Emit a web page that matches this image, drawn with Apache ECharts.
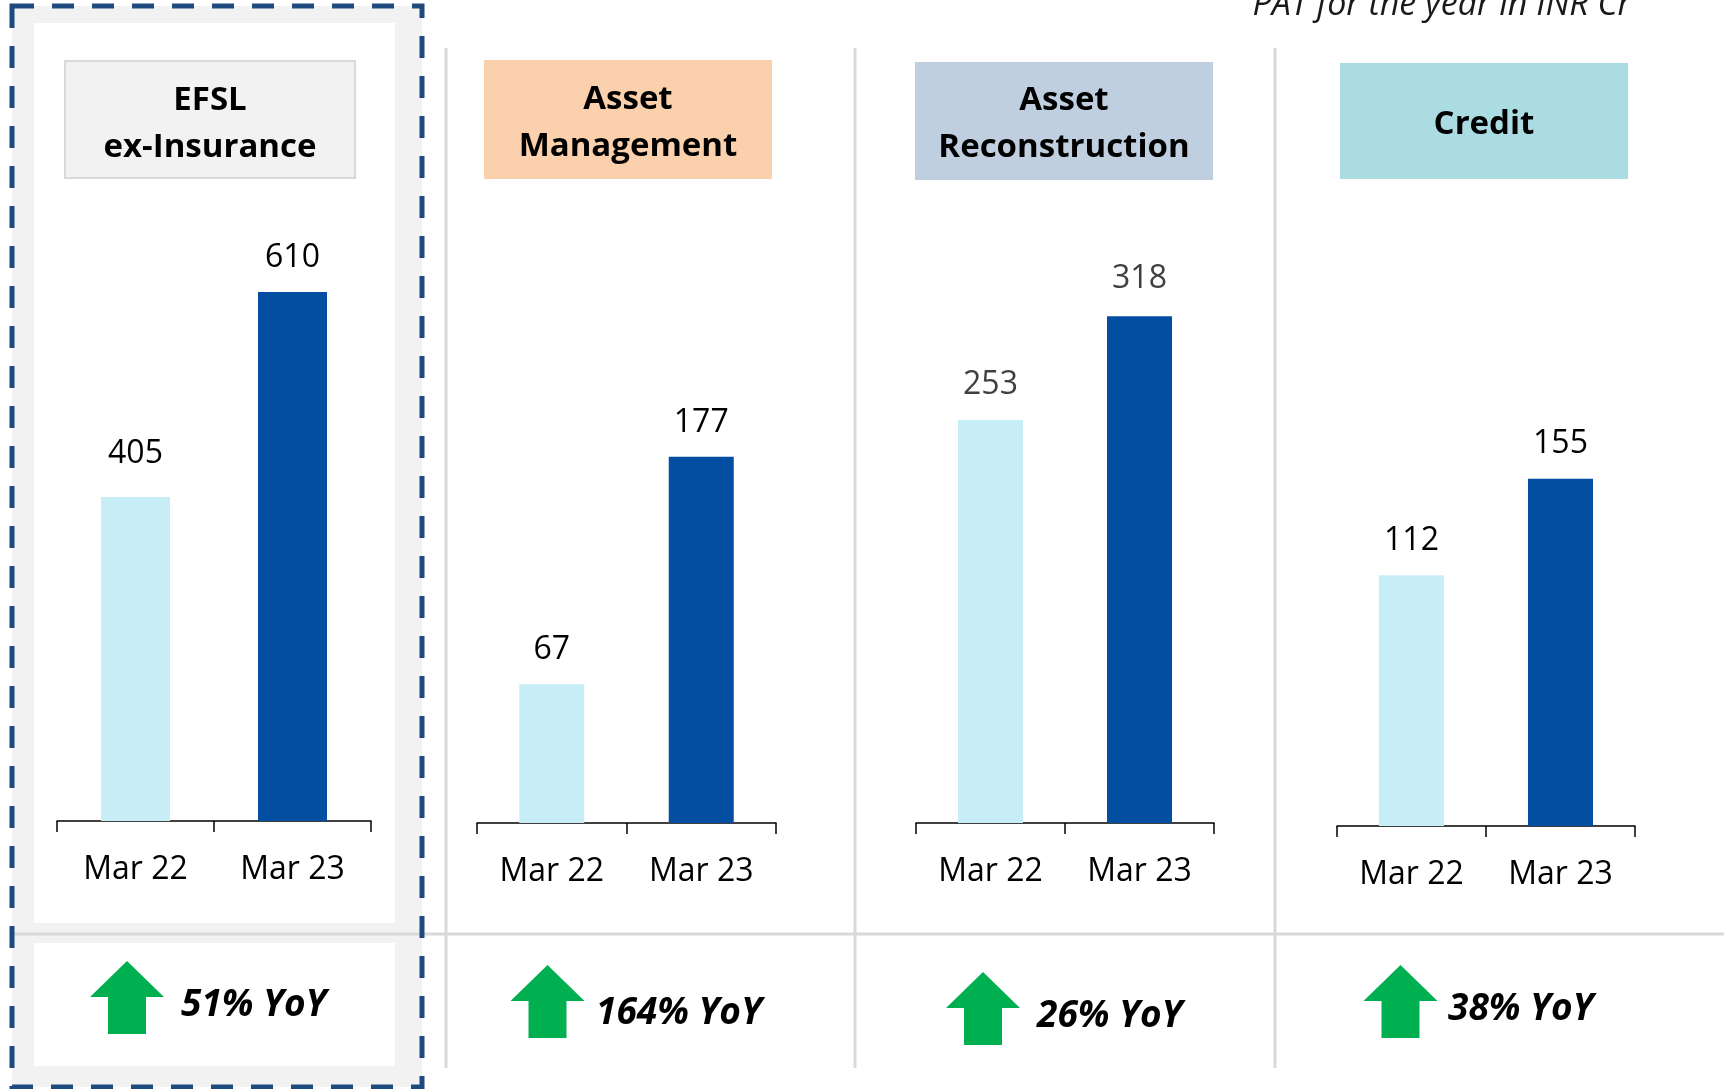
<!DOCTYPE html>
<html>
<head>
<meta charset="utf-8">
<script src="https://cdn.jsdelivr.net/npm/echarts@6/dist/echarts.min.js"></script>
<style>
html,body{margin:0;padding:0;background:#fff;}
#chart{width:1724px;height:1089px;}
</style>
</head>
<body>
<div id="chart"></div>
<script>
// ---- data ----
const categories = ['Mar 22', 'Mar 23'];
const segments = ['EFSL\nex-Insurance', 'Asset\nManagement', 'Asset\nReconstruction', 'Credit'];
const patMar22 = [405, 67, 253, 112];
const patMar23 = [610, 177, 318, 155];
const yoyGrowth = ['51% YoY', '164% YoY', '26% YoY', '38% YoY'];
const noteText = 'PAT for the year in INR Cr';

// ---- layout / style ----
const FONT = '"Open Sans", "Noto Sans", sans-serif';
const LIGHT = '#C7EEF6';
const DARK = '#044EA2';
const panels = [
  { left: 57,   width: 314, axisY: 821, min: 81, max: 702, barW: 69, labelColor: '#000', labelDist: [27, 18],
    box: [65, 61, 290, 117], boxFill: '#F2F2F2', boxStroke: '#D9D9D9', titleY: 124,
    arrowCx: 127, arrowTip: 961, arrowBase: 997, arrowBottom: 1034, yoyX: 181, yoyY: 1005 },
  { left: 477,  width: 299, axisY: 823, min: 0, max: 301, barW: 65, labelColor: '#000', labelDist: [18, 18],
    box: [484, 60, 288, 119], boxFill: '#FBD0AC', boxStroke: null, titleY: 123,
    arrowCx: 547.5, arrowTip: 965, arrowBase: 1001, arrowBottom: 1038, yoyX: 596, yoyY: 1013 },
  { left: 916,  width: 298, axisY: 823, min: 0, max: 391, barW: 65, labelColor: '#404040', labelDist: [19, 21],
    box: [915, 62, 298, 118], boxFill: '#C0CFE0', boxStroke: null, titleY: 124.5,
    arrowCx: 983, arrowTip: 972, arrowBase: 1008, arrowBottom: 1045, yoyX: 1037, yoyY: 1016 },
  { left: 1337, width: 298, axisY: 826, min: 0, max: 279.5, barW: 65, labelColor: '#000', labelDist: [18, 19],
    box: [1340, 63, 288, 116], boxFill: '#AADCE2', boxStroke: null, titleY: 124.5,
    arrowCx: 1400.5, arrowTip: 965, arrowBase: 1001, arrowBottom: 1038, yoyX: 1448, yoyY: 1009 }
];
const GRID_TOP = 200;

const grids = [], xAxes = [], yAxes = [], series = [];
panels.forEach((p, i) => {
  grids.push({ left: p.left, width: p.width, top: GRID_TOP, height: p.axisY - GRID_TOP, containLabel: false });
  xAxes.push({
    type: 'category', gridIndex: i, data: categories,
    axisLine: { show: true, lineStyle: { color: '#000', width: 1.5 } },
    axisTick: { show: true, length: 11, alignWithLabel: false, lineStyle: { color: '#000', width: 1.5 } },
    axisLabel: { fontSize: 32, color: '#000', margin: 33, fontFamily: FONT }
  });
  yAxes.push({ type: 'value', gridIndex: i, min: p.min, max: p.max, show: false });
  series.push({
    type: 'bar', xAxisIndex: i, yAxisIndex: i, barWidth: p.barW,
    data: [
      { value: patMar22[i], itemStyle: { color: LIGHT }, label: { distance: p.labelDist[0] } },
      { value: patMar23[i], itemStyle: { color: DARK }, label: { distance: p.labelDist[1] } }
    ],
    label: { show: true, position: 'top', fontSize: 32, color: p.labelColor, fontFamily: FONT },
    z: 5
  });
});

const graphics = [];
// panel 1 highlight background
graphics.push({ type: 'rect', z: -20, shape: { x: 12, y: 6, width: 410, height: 1081 }, style: { fill: '#F2F2F2' } });
graphics.push({ type: 'rect', z: -19, shape: { x: 34, y: 23, width: 361, height: 900 }, style: { fill: '#FFFFFF' } });
graphics.push({ type: 'rect', z: -19, shape: { x: 34, y: 943, width: 361, height: 123 }, style: { fill: '#FFFFFF' } });
// separators
[446, 855, 1275].forEach(x => {
  graphics.push({ type: 'line', z: -15, shape: { x1: x, y1: 48, x2: x, y2: 1068 }, style: { stroke: '#D9D9D9', lineWidth: 3 } });
});
graphics.push({ type: 'line', z: -15, shape: { x1: 12, y1: 934, x2: 1724, y2: 934 }, style: { stroke: '#D9D9D9', lineWidth: 3 } });
// dashed border
graphics.push({ type: 'rect', z: 20, shape: { x: 12, y: 6, width: 410, height: 1081 },
  style: { fill: null, stroke: '#1F4A7F', lineWidth: 5, lineDash: [22, 18] } });

panels.forEach((p, i) => {
  const b = p.box;
  graphics.push({ type: 'rect', z: -10, shape: { x: b[0], y: b[1], width: b[2], height: b[3] },
    style: { fill: p.boxFill, stroke: p.boxStroke, lineWidth: p.boxStroke ? 2 : 0 } });
  graphics.push({ type: 'text', z: 10, x: b[0] + b[2] / 2, y: p.titleY,
    style: { text: segments[i], font: 'bold 33px ' + FONT, fill: '#000', textAlign: 'center', textVerticalAlign: 'middle', lineHeight: 47 } });
  const c = p.arrowCx;
  graphics.push({ type: 'polygon', z: 10, shape: { points: [
      [c, p.arrowTip], [c + 37, p.arrowBase], [c + 19, p.arrowBase], [c + 19, p.arrowBottom],
      [c - 19, p.arrowBottom], [c - 19, p.arrowBase], [c - 37, p.arrowBase]] },
    style: { fill: '#00B050' } });
  graphics.push({ type: 'text', z: 10, x: p.yoyX, y: p.yoyY,
    style: { text: yoyGrowth[i], font: 'italic bold 37px ' + FONT, fill: '#000', textAlign: 'left', textVerticalAlign: 'middle' } });
});
graphics.push({ type: 'text', z: 10, x: 1631, y: 5,
  style: { text: noteText, font: 'italic 34px ' + FONT, fill: '#1A1A1A', textAlign: 'right', textVerticalAlign: 'middle' } });

const chart = echarts.init(document.getElementById('chart'), null, { renderer: 'canvas' });
chart.setOption({
  animation: false,
  backgroundColor: '#FFFFFF',
  grid: grids, xAxis: xAxes, yAxis: yAxes, series: series,
  graphic: { elements: graphics }
});
</script>
</body>
</html>
